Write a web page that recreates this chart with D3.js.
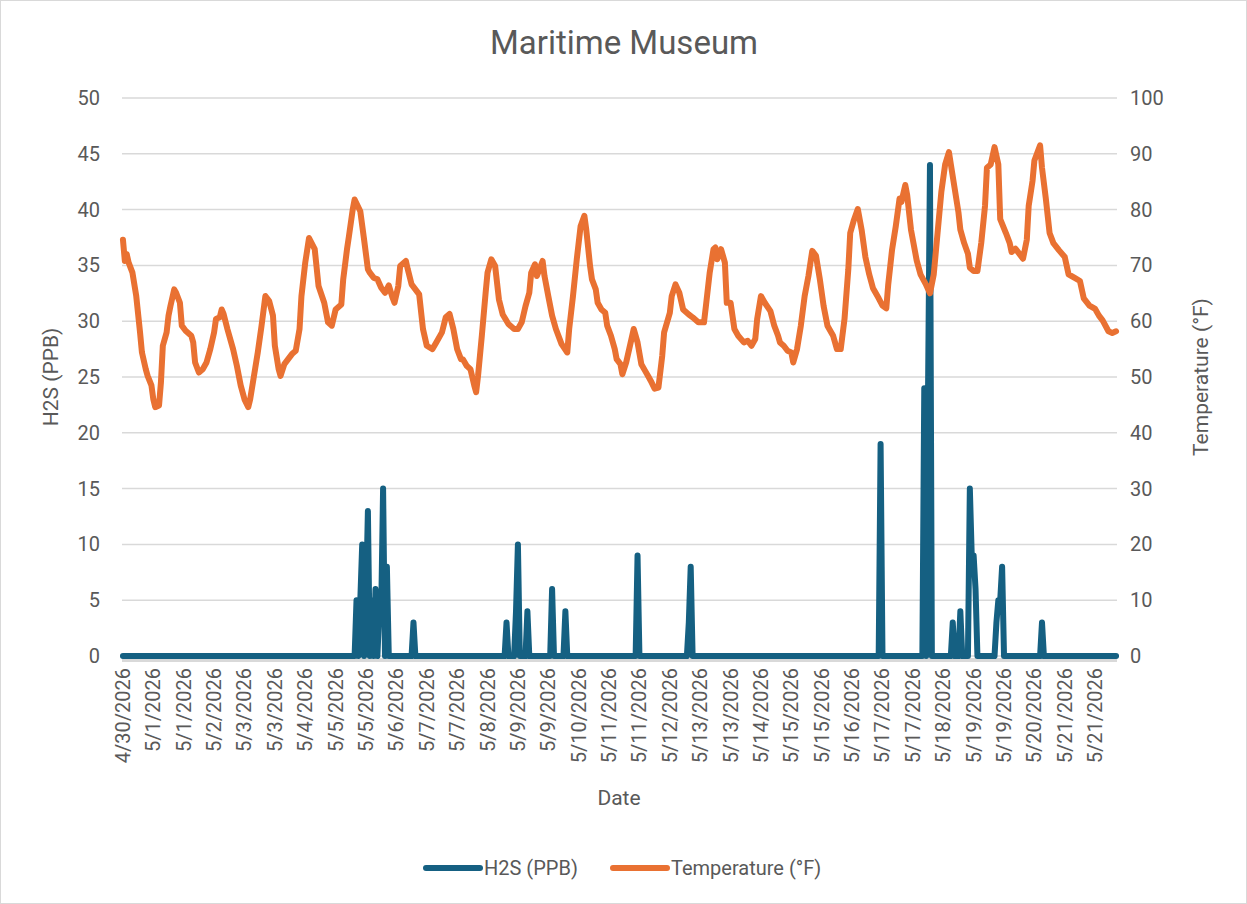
<!DOCTYPE html>
<html>
  <head>
    <meta charset="utf-8">
    <title>Maritime Museum</title>
    <script src="https://d3js.org/d3.v7.min.js"></script>
    <style>
      body { margin: 0; background: #fff; }
      svg text { font-family: Roboto, "Liberation Sans", sans-serif; fill: #595959; }
    </style>
  </head>
  <body>
    <div id="chart"></div>
    <script>

    // hourly readings, one category per hour, a date label every 16 categories
    var pointCount = 524;
    var labelEvery = 16;
    var tickLabels = ["4/30/2026","5/1/2026","5/1/2026","5/2/2026","5/3/2026","5/3/2026","5/4/2026",
      "5/5/2026","5/5/2026","5/6/2026","5/7/2026","5/7/2026","5/8/2026","5/9/2026","5/9/2026",
      "5/10/2026","5/11/2026","5/11/2026","5/12/2026","5/13/2026","5/13/2026","5/14/2026",
      "5/15/2026","5/15/2026","5/16/2026","5/17/2026","5/17/2026","5/18/2026","5/19/2026",
      "5/19/2026","5/20/2026","5/21/2026","5/21/2026"];

    // H2S is 0 except at these hours
    var h2sHour = [123,125,126,128,129,131,133,135,136,137,139,
      153, 202,207,208,213,226,233, 271, 298,299, 399,
      422,424,425, 437,441,446,447,448,449, 460,461,462,463, 484];
    var h2sPpb = [5,5,10,5,13,5,6,4,4,15,8,
      3, 3,4,10,4,6,4, 9, 3,8, 19,
      24,24,44, 3,4,15,9,9,6, 3,5,5,8, 3];

    // temperature read at the turning points of the curve (hour, °F)
    var tempHour = [0,1,2,3,5,7,9,10,12,13,15,16,17,19,20,21,23,24,25,27,28,30,31,33,36,37,38,40,42,44,46,48,49,51,52,53,55,58,60,62,64,66,67,69,71,73,75,77,79,80,82,83,
      85,87,89,91,93,94,96,98,101,103,106,108,110,112,115,116,118,119,121,122,125,127,129,130,132,134,136,138,140,142,143,145,146,149,150,152,154,156,158,160,163,165,168,170,
      172,174,176,178,179,181,183,185,186,187,189,191,192,194,196,198,200,203,206,208,210,212,214,215,217,218,221,222,224,226,228,231,234,235,237,239,241,243,244,246,247,249,250,252,254,
      255,257,259,260,262,263,265,267,269,271,273,275,277,278,280,282,284,285,288,289,291,293,295,298,300,303,306,307,309,311,312,313,315,317,318,320,322,324,327,329,331,333,334,336,338,341,343,
      345,346,348,350,352,353,355,357,359,361,363,365,367,369,371,374,376,378,380,382,383,385,387,389,391,393,395,398,400,402,403,405,407,409,410,412,413,415,418,420,423,425,427,429,431,433,
      435,436,438,440,441,443,445,446,448,450,452,454,455,457,459,461,462,465,467,468,470,472,474,476,477,479,480,483,484,486,488,490,493,496,498,501,504,506,509,512,514,516,519,521,523];
    var tempF = [74.6,70.8,72.0,70.5,68.7,64.5,58.0,54.4,51.4,50.2,48.5,46.0,44.6,44.9,49.0,55.6,58.0,61.0,62.7,65.7,65.1,63.3,59.2,58.3,57.4,56.2,52.6,50.8,51.4,52.6,55.0,58.0,60.4,60.7,62.1,61.3,58.6,55.0,52.0,48.5,46.0,44.6,46.0,50.2,54.4,59.2,64.5,63.6,61.0,55.6,51.4,50.2,
      52.3,53.2,54.1,54.7,58.6,64.5,70.5,74.9,72.9,66.3,63.3,59.8,59.2,62.1,63.0,67.5,72.9,75.2,80.0,81.8,79.7,74.6,69.3,68.7,67.8,67.5,66.0,65.1,66.4,64.2,63.3,66.3,69.9,70.8,69.3,66.6,65.7,64.8,58.6,55.6,55.0,56.2,58.0,60.7,
      61.3,58.6,55.0,53.2,53.2,52.0,51.4,48.5,47.3,50.2,57.4,65.1,68.7,71.1,69.9,63.9,61.2,59.5,58.6,58.6,59.8,62.7,65.1,68.7,70.2,68.1,70.8,68.1,64.5,61.0,58.6,55.9,54.4,58.6,64.5,71.1,77.0,78.9,76.4,69.9,67.5,65.7,63.3,62.1,61.5,
      59.2,57.4,55.0,53.2,52.3,50.5,52.6,55.6,58.6,56.2,52.3,51.1,49.9,49.3,47.9,48.1,53.8,58.0,61.5,64.5,66.6,65.1,62.1,61.2,60.7,59.8,59.8,62.7,68.7,72.9,73.2,71.1,72.9,70.5,63.3,63.3,58.6,57.4,56.2,56.5,55.6,56.8,60.4,64.5,63.3,61.8,59.2,
      57.4,56.2,55.6,54.7,54.4,52.6,55.0,59.2,64.5,68.1,72.6,71.7,67.5,62.7,59.2,57.4,55.0,55.0,60.4,69.3,75.8,78.2,80.1,76.4,71.5,68.4,65.9,64.1,62.8,62.3,66.5,72.7,77.0,82.0,81.4,84.4,82.6,76.4,70.9,68.4,66.5,65.0,68.4,75.8,83.2,88.1,
      90.3,88.1,83.8,79.5,76.4,74.0,72.1,69.6,69.0,69.0,74.0,80.7,87.5,88.1,91.2,88.1,78.3,75.8,74.0,72.4,73.0,72.1,71.2,74.6,80.7,85.1,88.8,91.5,87.5,82.0,75.8,74.0,72.7,71.5,68.4,67.8,67.2,64.1,62.8,62.2,61.0,60.1,58.2,57.9,58.2];

    var h2sTicks = d3.range(0, 51, 5);
    var tempTicks = d3.range(0, 101, 10);

    var W = 1247, H = 904;
    var margin = {top: 98, right: 130, bottom: 248, left: 122};
    var width = W - margin.left - margin.right,
        height = H - margin.top - margin.bottom;

    var blue = "#156082", orange = "#e97132";

    // full hourly H2S series
    var h2s = d3.range(pointCount).map(function(){ return 0; });
    h2sHour.forEach(function(h, i){ h2s[h] = h2sPpb[i]; });
    var temps = tempHour.map(function(h, i){ return {h: h, v: tempF[i]}; });

    var svg = d3.select("#chart").append("svg").attr("width", W).attr("height", H);
    svg.append("rect").attr("x", 0.5).attr("y", 0.5).attr("width", W - 1).attr("height", H - 1)
      .attr("fill", "#fff").attr("stroke", "#d9d9d9");

    var g = svg.append("g").attr("transform", "translate(" + margin.left + "," + margin.top + ")");

    var x = d3.scaleLinear().domain([-0.5, pointCount - 0.5]).range([0, width]);
    var yL = d3.scaleLinear().domain([0, 50]).range([height, 0]);
    var yR = d3.scaleLinear().domain([0, 100]).range([height, 0]);

    // gridlines
    g.append("g").selectAll("line").data(h2sTicks).enter().append("line")
      .attr("x1", 0).attr("x2", width)
      .attr("y1", function(d){ return yL(d); }).attr("y2", function(d){ return yL(d); })
      .attr("stroke", "#d9d9d9").attr("stroke-width", 1.5);

    // category axis line
    g.append("line").attr("x1", 0).attr("x2", width).attr("y1", height + 4).attr("y2", height + 4)
      .attr("stroke", "#d9d9d9").attr("stroke-width", 4);

    var leftAxis = g.append("g").call(d3.axisLeft(yL).tickValues(h2sTicks).tickSize(0).tickPadding(22));
    var rightAxis = g.append("g").attr("transform", "translate(" + width + ",0)")
      .call(d3.axisRight(yR).tickValues(tempTicks).tickSize(0).tickPadding(13));
    [leftAxis, rightAxis].forEach(function(a){
      a.select(".domain").remove();
      a.selectAll("text").attr("font-size", "20px").attr("fill", "#595959");
    });

    // date labels
    var labelIdx = tickLabels.map(function(d, i){ return i * labelEvery; });
    g.append("g").selectAll("text").data(labelIdx).enter().append("text")
      .attr("transform", function(d){ return "translate(" + (x(d) + 7) + "," + (height + 12) + ") rotate(-90)"; })
      .attr("text-anchor", "end")
      .attr("font-size", "20px")
      .text(function(d, i){ return tickLabels[i]; });

    // series
    var lineL = d3.line().x(function(d, i){ return x(i); }).y(function(d){ return yL(d); });
    g.append("path").datum(h2s).attr("d", lineL)
      .attr("fill", "none").attr("stroke", blue).attr("stroke-width", 6)
      .attr("stroke-linejoin", "round").attr("stroke-linecap", "round");

    var lineR = d3.line().x(function(d){ return x(d.h); }).y(function(d){ return yR(d.v); });
    g.append("path").datum(temps).attr("d", lineR)
      .attr("fill", "none").attr("stroke", orange).attr("stroke-width", 6)
      .attr("stroke-linejoin", "round").attr("stroke-linecap", "round");

    // titles
    svg.append("text").attr("x", 624).attr("y", 54).attr("text-anchor", "middle")
      .attr("font-size", "33px").text("Maritime Museum");
    svg.append("text").attr("x", 619).attr("y", 805).attr("text-anchor", "middle")
      .attr("font-size", "21px").text("Date");
    svg.append("text").attr("transform", "translate(58," + (margin.top + height / 2) + ") rotate(-90)")
      .attr("text-anchor", "middle").attr("font-size", "21px").text("H2S (PPB)");
    svg.append("text").attr("transform", "translate(1208," + (margin.top + height / 2) + ") rotate(-90)")
      .attr("text-anchor", "middle").attr("font-size", "21px").text("Temperature (°F)");

    // legend
    var legend = [{name: "H2S (PPB)", color: blue, x: 426}, {name: "Temperature (°F)", color: orange, x: 613}];
    var lg = svg.append("g").selectAll("g").data(legend).enter().append("g")
      .attr("transform", function(d){ return "translate(" + d.x + ",868)"; });
    lg.append("line").attr("x1", 0).attr("x2", 54).attr("stroke", function(d){ return d.color; })
      .attr("stroke-width", 6).attr("stroke-linecap", "round");
    lg.append("text").attr("x", 58).attr("y", 7).attr("font-size", "20px").text(function(d){ return d.name; });

    </script>
  </body>
</html>
